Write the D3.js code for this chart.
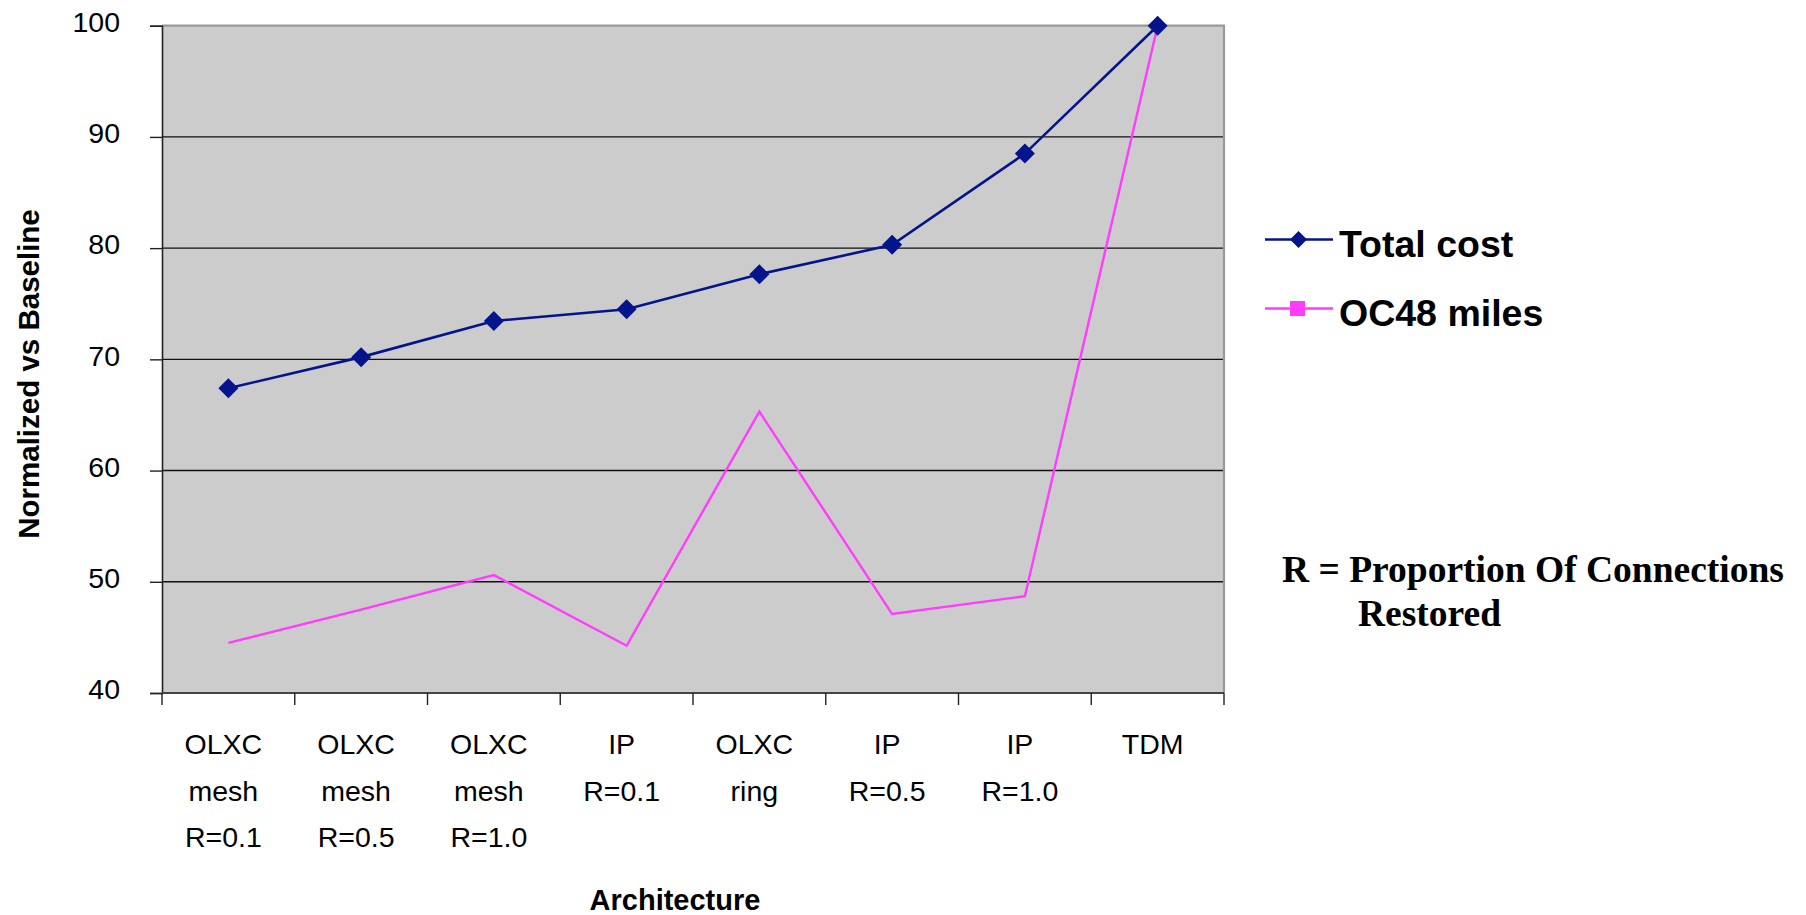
<!DOCTYPE html>
<html>
<head>
<meta charset="utf-8">
<script src="https://cdn.jsdelivr.net/npm/d3@7/dist/d3.min.js"></script>
<style>
  html, body { margin: 0; padding: 0; background: #ffffff; }
  svg { display: block; }
</style>
</head>
<body>
<svg id="chart" width="1806" height="915"></svg>
<script>
// ---- Data ----
const categories = ["OLXC mesh R=0.1", "OLXC mesh R=0.5", "OLXC mesh R=1.0", "IP R=0.1", "OLXC ring", "IP R=0.5", "IP R=1.0", "TDM"];
const categoryLines = [["OLXC", "mesh", "R=0.1"], ["OLXC", "mesh", "R=0.5"], ["OLXC", "mesh", "R=1.0"], ["IP", "R=0.1"], ["OLXC", "ring"], ["IP", "R=0.5"], ["IP", "R=1.0"], ["TDM"]];
const totalCost = [67.4, 70.2, 73.45, 74.5, 77.65, 80.3, 88.5, 100];
const oc48Miles = [44.5, 47.5, 50.6, 44.25, 65.3, 47.1, 48.7, 100];
const yTicks = [40, 50, 60, 70, 80, 90, 100];
const seriesNames = ["Total cost", "OC48 miles"];
const noteLines = ["R = Proportion Of Connections", "Restored"];

// ---- Layout ----
const svg = d3.select("#chart");
const plot = { left: 162, right: 1224, top: 25.7, bottom: 693 };
const blue = "#04148c";
const pink = "#ff3cff";

const x = d3.scaleBand().domain(categories).range([plot.left, plot.right]);
const y = d3.scaleLinear().domain([40, 100]).range([plot.bottom, plot.top]);
const cx = c => x(c) + x.bandwidth() / 2;

// Plot background
svg.append("rect")
  .attr("x", plot.left).attr("y", plot.top)
  .attr("width", plot.right - plot.left).attr("height", plot.bottom - plot.top)
  .attr("fill", "#cccccc");

// Gridlines
svg.append("g").selectAll("line")
  .data(yTicks.filter(v => v > 40 && v < 100))
  .join("line")
  .attr("x1", plot.left).attr("x2", plot.right)
  .attr("y1", d => y(d)).attr("y2", d => y(d))
  .attr("stroke", "#111").attr("stroke-width", 1.4);

// Top and right border (grey)
svg.append("path")
  .attr("d", `M${plot.left},${y(100)}H${plot.right}V${plot.bottom}`)
  .attr("fill", "none").attr("stroke", "#999").attr("stroke-width", 2.2);

// Y axis
const yAxis = svg.append("g")
  .attr("transform", `translate(${plot.left},0)`)
  .call(d3.axisLeft(y).tickValues(yTicks).tickSize(12).tickPadding(30).tickFormat(d3.format("d")));
yAxis.select(".domain").attr("stroke", "#222").attr("stroke-width", 1.6);
yAxis.selectAll(".tick line").attr("stroke", "#222").attr("stroke-width", 1.4);
yAxis.selectAll(".tick text")
  .attr("font-family", "Liberation Sans, Arial, sans-serif")
  .attr("font-size", 28.5).attr("fill", "#000").attr("dy", "0.2em");

// X axis (ticks at category boundaries)
const xAxis = svg.append("g");
xAxis.append("line")
  .attr("x1", plot.left).attr("x2", plot.right)
  .attr("y1", plot.bottom).attr("y2", plot.bottom)
  .attr("stroke", "#444").attr("stroke-width", 2);
const bounds = categories.map(c => x(c)).concat([x.range()[1]]);
xAxis.selectAll("line.tick")
  .data(bounds)
  .join("line").attr("class", "tick")
  .attr("x1", d => d).attr("x2", d => d)
  .attr("y1", plot.bottom).attr("y2", plot.bottom + 12)
  .attr("stroke", "#222").attr("stroke-width", 1.4);

const xLab = xAxis.selectAll("text.cat")
  .data(categories)
  .join("text").attr("class", "cat")
  .attr("font-family", "Liberation Sans, Arial, sans-serif")
  .attr("font-size", 28.5).attr("fill", "#000")
  .attr("text-anchor", "middle");
xLab.each(function(c, i) {
  const t = d3.select(this);
  categoryLines[i].forEach((ln, j) => {
    t.append("tspan")
      .attr("x", cx(c) - 5)
      .attr("y", 754 + j * 46.5)
      .text(ln);
  });
});

// Axis titles
svg.append("text")
  .attr("x", 675).attr("y", 910)
  .attr("text-anchor", "middle")
  .attr("font-family", "Liberation Sans, Arial, sans-serif")
  .attr("font-weight", "bold").attr("font-size", 29)
  .text("Architecture");

svg.append("text")
  .attr("transform", "translate(39,374) rotate(-90)")
  .attr("text-anchor", "middle")
  .attr("font-family", "Liberation Sans, Arial, sans-serif")
  .attr("font-weight", "bold").attr("font-size", 29.5)
  .text("Normalized vs Baseline");

// Lines
const line = d3.line().x((d, i) => cx(categories[i])).y(d => y(d));

svg.append("path")
  .datum(oc48Miles)
  .attr("d", line)
  .attr("fill", "none").attr("stroke", pink).attr("stroke-width", 2.4)
  .attr("stroke-linejoin", "miter");

svg.append("path")
  .datum(totalCost)
  .attr("d", line)
  .attr("fill", "none").attr("stroke", blue).attr("stroke-width", 2.6);

const diamond = (px, py, r) => `M${px},${py - r}L${px + r},${py}L${px},${py + r}L${px - r},${py}Z`;
svg.append("g").selectAll("path")
  .data(totalCost)
  .join("path")
  .attr("d", (d, i) => diamond(cx(categories[i]), y(d), 10))
  .attr("fill", blue);

// Legend
const legend = svg.append("g");
const legendItems = [
  { name: seriesNames[0], color: blue, y: 239.5, marker: "diamond" },
  { name: seriesNames[1], color: pink, y: 308.5, marker: "square" }
];
legendItems.forEach(it => {
  legend.append("line")
    .attr("x1", 1265).attr("x2", 1333)
    .attr("y1", it.y).attr("y2", it.y)
    .attr("stroke", it.color).attr("stroke-width", 2.6);
  if (it.marker === "diamond") {
    legend.append("path").attr("d", diamond(1298.5, it.y, 8.5)).attr("fill", it.color);
  } else {
    legend.append("rect").attr("x", 1290).attr("y", it.y - 7.5)
      .attr("width", 15).attr("height", 15).attr("fill", it.color);
  }
  legend.append("text")
    .attr("x", 1339).attr("y", it.y + 17)
    .attr("font-family", "Liberation Sans, Arial, sans-serif")
    .attr("font-weight", "bold").attr("font-size", 37.5)
    .attr("fill", "#000")
    .text(it.name);
});

// Note
svg.append("text")
  .attr("x", 1282).attr("y", 582)
  .attr("font-family", "Liberation Serif, Times New Roman, serif")
  .attr("font-weight", "bold").attr("font-size", 37.5)
  .text(noteLines[0]);
svg.append("text")
  .attr("x", 1358).attr("y", 626)
  .attr("font-family", "Liberation Serif, Times New Roman, serif")
  .attr("font-weight", "bold").attr("font-size", 37.5)
  .text(noteLines[1]);
</script>
</body>
</html>
